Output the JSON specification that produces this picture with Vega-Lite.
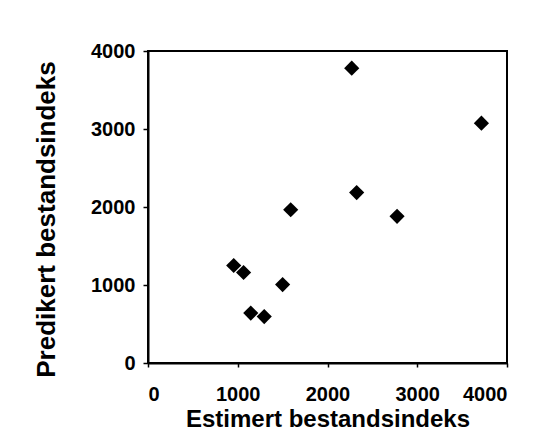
{
  "$schema": "https://vega.github.io/schema/vega-lite/v6.json",
  "autosize": "none",
  "width": 359,
  "height": 312,
  "padding": {"left": 148, "top": 51, "right": 48, "bottom": 80},
  "background": "white",
  "data": {
    "values": [
      {"estimert": 2270, "predikert": 3780},
      {"estimert": 3715, "predikert": 3075},
      {"estimert": 2325, "predikert": 2185},
      {"estimert": 1590, "predikert": 1965},
      {"estimert": 2775, "predikert": 1880},
      {"estimert": 955, "predikert": 1250},
      {"estimert": 1065, "predikert": 1160},
      {"estimert": 1500, "predikert": 1005},
      {"estimert": 1145, "predikert": 640},
      {"estimert": 1295, "predikert": 595}
    ]
  },
  "mark": {"type": "point", "shape": "diamond", "filled": true, "color": "black", "size": 230, "opacity": 1},
  "encoding": {
    "x": {
      "field": "estimert",
      "type": "quantitative",
      "scale": {"domain": [0, 4000], "nice": false, "zero": true},
      "axis": {
        "title": "Estimert bestandsindeks",
        "values": [0, 1000, 2000, 3000, 4000],
        "format": "d",
        "grid": false,
        "tickSize": 4,
        "labelPadding": 17,
        "titlePadding": 3,
        "titleFontSize": 24
      }
    },
    "y": {
      "field": "predikert",
      "type": "quantitative",
      "scale": {"domain": [0, 4000], "nice": false, "zero": true},
      "axis": {
        "title": "Predikert bestandsindeks",
        "values": [0, 1000, 2000, 3000, 4000],
        "format": "d",
        "grid": false,
        "tickSize": 5,
        "labelPadding": 8,
        "titlePadding": 31,
        "titleFontSize": 26,
        "titleY": 168
      }
    }
  },
  "config": {
    "font": "Liberation Sans",
    "view": {"stroke": "black", "strokeWidth": 2},
    "axis": {
      "domainColor": "black",
      "domainWidth": 2,
      "tickColor": "black",
      "tickWidth": 1.5,
      "labelFont": "Liberation Sans",
      "labelFontSize": 20,
      "labelFontWeight": "bold",
      "labelColor": "black",
      "titleFont": "Liberation Sans",
      "titleFontWeight": "bold",
      "titleColor": "black"
    }
  }
}
